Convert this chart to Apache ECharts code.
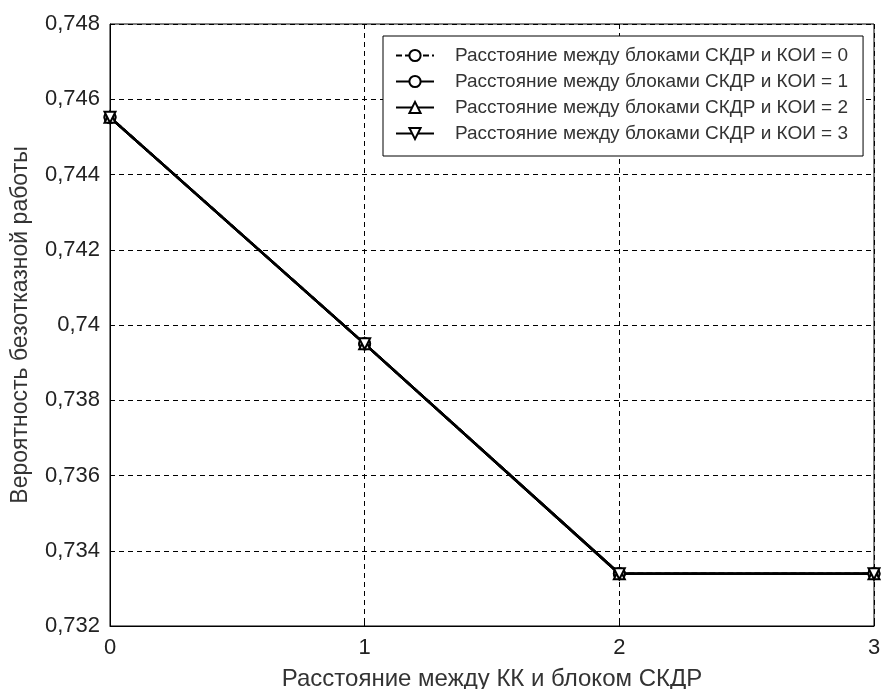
<!DOCTYPE html>
<html>
<head>
<meta charset="utf-8">
<script src="https://cdn.jsdelivr.net/npm/echarts@6/dist/echarts.min.js"></script>
<style>
  html, body { margin: 0; padding: 0; background: #fff; }
  #chart { width: 882px; height: 689px; }
</style>
</head>
<body>
<div id="chart"></div>
<script>
// distance between KK and SKDR block
var xValues = [0, 1, 2, 3];
// reliability for each distance between SKDR and KOI blocks (curves overlap)
var dist0 = [0.74552, 0.73950, 0.73339, 0.73339];
var dist1 = [0.74552, 0.73950, 0.73339, 0.73339];
var dist2 = [0.74552, 0.73950, 0.73339, 0.73339];
var dist3 = [0.74552, 0.73950, 0.73339, 0.73339];
var seriesNames = [
  "Расстояние между блоками СКДР и КОИ = 0",
  "Расстояние между блоками СКДР и КОИ = 1",
  "Расстояние между блоками СКДР и КОИ = 2",
  "Расстояние между блоками СКДР и КОИ = 3"
];
var yMin = 0.732, yMax = 0.748, yStep = 0.002;

var chart = echarts.init(document.getElementById("chart"));

function pairs(vals) {
  return xValues.map(function (x, i) { return [x, vals[i]]; });
}

function makeSeries(name, vals, symbol, dashed) {
  return {
    name: name,
    type: "line",
    data: pairs(vals),
    symbol: symbol,
    symbolSize: 11,
    lineStyle: { color: "#000", width: 2.5, type: dashed ? [6, 3] : "solid" },
    itemStyle: { color: "#fff", borderColor: "#000", borderWidth: 2 },
    emphasis: { disabled: true },
    z: 3
  };
}

var font = "Liberation Sans, Arial, sans-serif";

var option = {
  backgroundColor: "#fff",
  animation: false,
  grid: {
    left: 110, right: 8, top: 24, bottom: 63,
    containLabel: false,
    outerBoundsMode: "none",
    show: true, borderColor: "#000", borderWidth: 1
  },
  legend: {
    orient: "vertical",
    left: 383,
    top: 36,
    padding: [10, 15, 13, 12],
    itemWidth: 38,
    itemHeight: 14,
    itemGap: 7,
    backgroundColor: "#fff",
    borderColor: "#000",
    borderWidth: 1,
    textStyle: { fontFamily: font, fontSize: 19, color: "#333", padding: [0, 0, 0, 16] },
    data: seriesNames
  },
  xAxis: {
    type: "value",
    min: 0, max: 3, interval: 1,
    name: "Расстояние между КК и блоком СКДР",
    nameLocation: "middle",
    nameGap: 41,
    nameTextStyle: { fontFamily: font, fontSize: 24, color: "#333" },
    axisLine: { show: true, lineStyle: { color: "#000" } },
    axisTick: { show: true, inside: true, length: 5, lineStyle: { color: "#000" } },
    axisLabel: { fontFamily: font, fontSize: 22, color: "#222", margin: 11 },
    splitLine: { show: true, lineStyle: { color: "#000", type: [5, 4], width: 1 } }
  },
  yAxis: {
    type: "value",
    min: yMin, max: yMax, interval: yStep,
    name: "Вероятность безотказной работы",
    nameLocation: "middle",
    nameGap: 78,
    nameTextStyle: { fontFamily: font, fontSize: 23, color: "#333" },
    axisLine: { show: true, lineStyle: { color: "#000" } },
    axisTick: { show: true, inside: true, length: 5, lineStyle: { color: "#000" } },
    axisLabel: {
      fontFamily: font, fontSize: 22, color: "#222", margin: 10,
      formatter: function (v) { return String(parseFloat(v.toFixed(3))).replace(".", ","); }
    },
    splitLine: { show: true, lineStyle: { color: "#000", type: [5, 4], width: 1 } }
  },
  series: [
    makeSeries(seriesNames[0], dist0, "circle", true),
    makeSeries(seriesNames[1], dist1, "circle", false),
    makeSeries(seriesNames[2], dist2, "triangle", false),
    makeSeries(seriesNames[3], dist3, "path://M0,0 L10,0 L5,10 Z", false)
  ]
};

chart.setOption(option);
</script>
</body>
</html>
